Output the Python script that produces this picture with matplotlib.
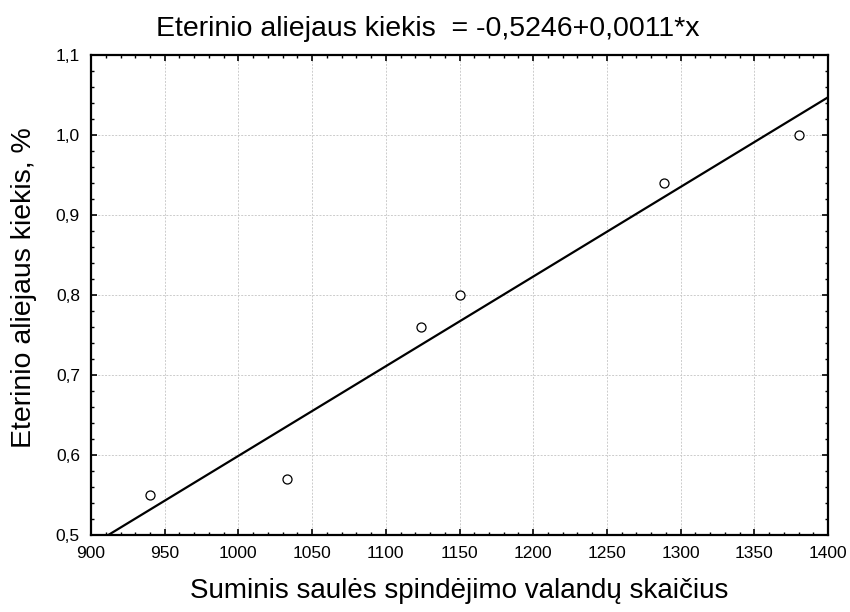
import numpy as np
import matplotlib
matplotlib.use("Agg")
import matplotlib.pyplot as plt
from matplotlib.ticker import MultipleLocator, FuncFormatter

plt.rcParams['font.family'] = ['Liberation Sans', 'DejaVu Sans']

# Sunshine hours vs. essential oil content
sunshine_hours = [940, 1033, 1124, 1150, 1289, 1380]
oil_content = [0.55, 0.57, 0.76, 0.80, 0.94, 1.00]

title_text = "Eterinio aliejaus kiekis  = -0,5246+0,0011*x"
x_label = "Suminis saulės spindėjimo valandų skaičius"
y_label = "Eterinio aliejaus kiekis, %"

fig = plt.figure(figsize=(8.5, 6.12), dpi=100)
ax = fig.add_axes([0.1071, 0.1258, 0.8670, 0.9101 - 0.1258])

# least-squares regression line
slope, intercept = np.polyfit(sunshine_hours, oil_content, 1)
xs = np.array([900, 1400])
ax.plot(xs, intercept + slope * xs, color='black', lw=1.6, zorder=3)

ax.plot(sunshine_hours, oil_content, linestyle='none', marker='o', ms=6.5,
        mfc='white', mec='black', mew=0.9, zorder=4)

ax.set_xlim(900, 1400)
ax.set_ylim(0.5, 1.1)
ax.xaxis.set_major_locator(MultipleLocator(50))
ax.xaxis.set_minor_locator(MultipleLocator(10))
ax.yaxis.set_major_locator(MultipleLocator(0.1))
ax.yaxis.set_minor_locator(MultipleLocator(0.02))
ax.yaxis.set_major_formatter(FuncFormatter(lambda v, p: f"{v:.1f}".replace('.', ',')))

ax.grid(True, which='major', color='#cccccc', linestyle=(0, (2, 1.5)), lw=0.7)
ax.tick_params(which='both', direction='in', top=True, right=True,
               labelsize=12.5, color='black')
ax.tick_params(which='major', length=4, width=1.2, pad=8)
ax.tick_params(which='minor', length=2.5, width=1.0)
for s in ax.spines.values():
    s.set_linewidth(1.6)

# title centred over the whole figure
fig.text(0.503, 1 - 36 / 612, title_text, fontsize=20.5,
         ha='center', va='baseline')
ax.set_xlabel(x_label, fontsize=20, labelpad=12)
ax.set_ylabel(y_label, fontsize=20.5, labelpad=14)
ax.yaxis.set_label_coords(-0.074, 0.515)

fig.savefig("out.png", dpi=100)
